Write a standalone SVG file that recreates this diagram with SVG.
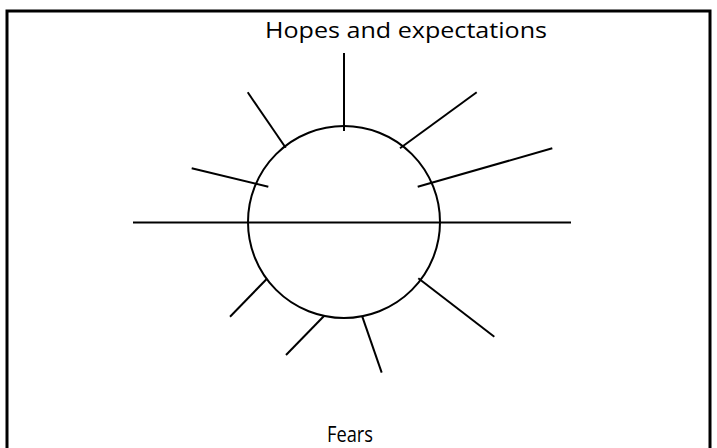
<svg xmlns="http://www.w3.org/2000/svg" width="717" height="448" viewBox="0 0 717 448">
<style>
.ln{stroke:#000;stroke-width:2;fill:none;stroke-linecap:butt}
.t{font-family:"Comic Sans MS","Open Sans","DejaVu Sans",sans-serif;font-size:22px;fill:#000}
</style>
<rect x="0" y="0" width="717" height="448" fill="#fff"/>
<rect id="frame" x="7" y="11" width="703" height="445" fill="none" stroke="#000" stroke-width="3"/>
<g id="labels">
<text class="t" x="406" y="38" text-anchor="middle" textLength="282" lengthAdjust="spacingAndGlyphs">Hopes and expectations</text>
<text class="t" x="350" y="442" text-anchor="middle" textLength="46" lengthAdjust="spacingAndGlyphs" style="font-size:21px">Fears</text>
</g>
<g id="circle">
<circle class="ln" cx="344" cy="222" r="96"/>
</g>
<g id="connectors">
<line class="ln" x1="133" y1="222.5" x2="571" y2="222.5"/>
<line class="ln" x1="344" y1="53" x2="344" y2="131"/>
<line class="ln" x1="247.7" y1="92.3" x2="285.7" y2="147.7"/>
<line class="ln" x1="191.7" y1="168.3" x2="268.3" y2="186.7"/>
<line class="ln" x1="476.7" y1="92.3" x2="400" y2="148.3"/>
<line class="ln" x1="552.3" y1="148.3" x2="417.7" y2="186.7"/>
<line class="ln" x1="266.7" y1="279" x2="230" y2="316.7"/>
<line class="ln" x1="324" y1="316" x2="286" y2="355"/>
<line class="ln" x1="362.3" y1="316.7" x2="381.7" y2="372.7"/>
<line class="ln" x1="418.3" y1="278.3" x2="494.3" y2="336.7"/>
</g>
</svg>
